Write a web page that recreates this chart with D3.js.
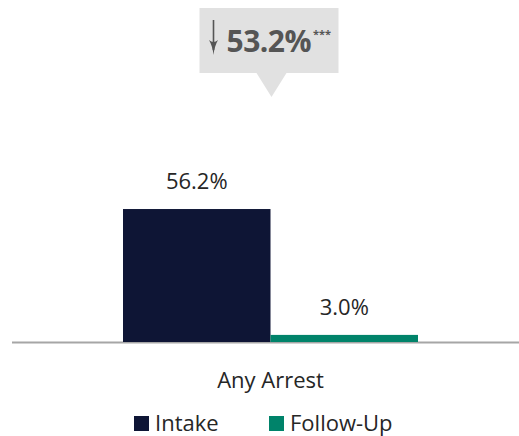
<!DOCTYPE html>
<html><head><meta charset="utf-8">
<script src="https://cdn.jsdelivr.net/npm/d3@7"></script>
<style>body{margin:0;background:#fff}svg{display:block}</style>
</head><body>
<svg id="c" width="519" height="436"></svg>
<script>
const categories = ["Any Arrest"];
const series = ["Intake", "Follow-Up"];
const intakeValues = [56.2];
const followUpValues = [3.0];
const changeLabels = ["53.2%"];
const significance = ["***"];
const colors = ["#0E1535", "#00836A"];

const svg = d3.select("#c");
const font = "'Open Sans', 'Noto Sans', sans-serif";
const baseY = 342;
const y = d3.scaleLinear().domain([0, 100]).range([baseY, baseY - 236.6]);
const x0 = d3.scaleBand().domain(categories).range([123, 418]);
const x1 = d3.scaleBand().domain(series).range([0, x0.bandwidth()]);

const data = categories.map((c, i) => ({cat: c, vals: [intakeValues[i], followUpValues[i]]}));

// axis line
svg.append("line").attr("x1", 12).attr("x2", 519).attr("y1", baseY + 0.5).attr("y2", baseY + 0.5)
  .attr("stroke", "#A6A6A6").attr("stroke-width", 2);

const g = svg.selectAll("g.cat").data(data).enter().append("g")
  .attr("transform", d => `translate(${x0(d.cat)},0)`);

g.selectAll("rect").data(d => d.vals.map((v, j) => ({s: series[j], v, j}))).enter().append("rect")
  .attr("x", d => x1(d.s)).attr("width", x1.bandwidth())
  .attr("y", d => y(d.v)).attr("height", d => baseY - y(d.v))
  .attr("fill", d => colors[d.j]);

g.selectAll("text.val").data(d => d.vals.map((v, j) => ({s: series[j], v, j}))).enter().append("text")
  .attr("class", "val")
  .attr("x", d => x1(d.s) + x1.bandwidth() / 2)
  .attr("y", d => y(d.v) - 20)
  .attr("text-anchor", "middle").attr("font-family", font).attr("font-size", 22)
  .attr("fill", "#262626").text(d => d.v.toFixed(1) + "%");

// category labels
svg.selectAll("text.cat").data(categories).enter().append("text")
  .attr("x", d => x0(d) + x0.bandwidth() / 2).attr("y", 388)
  .attr("text-anchor", "middle").attr("font-family", font).attr("font-size", 22)
  .attr("fill", "#262626").text(d => d);

// callout
data.forEach((d, i) => {
  const cx = x0(d.cat) + x0.bandwidth() / 2;
  const bx0 = cx - 71, bx1 = cx + 68, by0 = 8, by1 = 73;
  svg.append("path")
    .attr("d", `M${bx0},${by0}H${bx1}V${by1}H${cx + 16}L${cx + 1},${97}L${cx - 14},${by1}H${bx0}Z`)
    .attr("fill", "#E1E1E1");
  const ax = bx0 + 14;
  svg.append("line").attr("x1", ax).attr("x2", ax).attr("y1", 20).attr("y2", 50)
    .attr("stroke", "#555555").attr("stroke-width", 1.6);
  svg.append("path")
    .attr("d", `M${ax - 4.5},${40}Q${ax - 1},${46} ${ax},${55}Q${ax + 1},${46} ${ax + 4.5},${40}Q${ax},${44} ${ax - 4.5},${40}Z`)
    .attr("fill", "#555555");
  const t = svg.append("text").attr("x", bx0 + 27).attr("y", 52)
    .attr("font-family", font).attr("fill", "#555555");
  t.append("tspan").attr("font-size", 30).attr("font-weight", 700).attr("letter-spacing", -0.5).text(changeLabels[i]);
  t.append("tspan").attr("font-size", 11).attr("font-weight", 700).attr("dx", 2).attr("dy", -14).text(significance[i]);
});

// legend
const legX = [134, 269];
const lg = svg.selectAll("g.leg").data(series).enter().append("g")
  .attr("transform", (d, i) => `translate(${legX[i]},416)`);
lg.append("rect").attr("width", 15).attr("height", 15).attr("fill", (d, i) => colors[i]);
lg.append("text").attr("x", 21).attr("y", 15).attr("font-family", font).attr("font-size", 22)
  .attr("fill", "#262626").text(d => d);
</script>
</body></html>
